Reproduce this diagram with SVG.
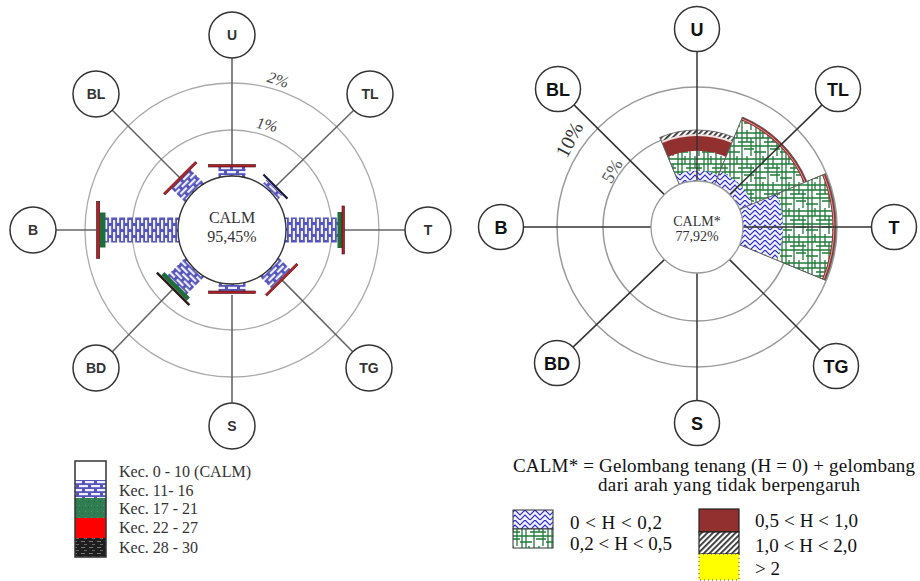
<svg xmlns="http://www.w3.org/2000/svg" width="920" height="581" viewBox="0 0 920 581">
<style>
.ring1{fill:none;stroke:#aaaaaa;stroke-width:1.3}
.ring2{fill:none;stroke:#9a9a9a;stroke-width:1.5}
.spokeL{stroke:#666;stroke-width:1.6;fill:none}
.spokeR{stroke:#333;stroke-width:1.5;fill:none}
.node{fill:#fff;stroke:#333;stroke-width:1.5}
.lblL{font-family:"Liberation Sans",Arial,sans-serif;font-weight:bold;font-size:14px;fill:#333;text-anchor:middle}
.lblR{font-family:"Liberation Sans",Arial,sans-serif;font-weight:bold;font-size:18px;fill:#111;text-anchor:middle}
.serif{font-family:"Liberation Serif","Times New Roman",serif}
.cap{fill:#b3202a;stroke:#3a1010;stroke-width:0.6}
.red{fill:#922f2f}
.edge{stroke:#555;stroke-width:0.8}
</style>
<defs>
<pattern id="brick" width="12" height="8" patternUnits="userSpaceOnUse">
<rect width="12" height="8" fill="#5555bb"/>
<rect x="1" y="1" width="9" height="2.2" fill="#eef"/>
<rect x="-5" y="5" width="9" height="2.2" fill="#eef"/>
<rect x="7" y="5" width="9" height="2.2" fill="#eef"/>
</pattern>
<pattern id="herr" width="10" height="10" patternUnits="userSpaceOnUse">
<rect width="10" height="10" fill="#f2f2ff"/>
<path d="M-1,6 L5,0 L11,6 M-1,11 L5,5 L11,11 M-1,1 L0,0" stroke="#2a2ac8" stroke-width="1.2" fill="none"/>
</pattern>
<pattern id="grid" width="26" height="26" patternUnits="userSpaceOnUse">
<rect width="26" height="26" fill="#fff"/>
<path d="M2,0V26 M6,0V26 M14,0V26 M19,0V12 M23,8V26 M9,0V8 M0,3H26 M0,8H26 M0,16H26 M0,22H12 M10,12H26 M16,19H26" stroke="#1f7a3a" stroke-width="1.3" fill="none"/>
</pattern>
<pattern id="hatch" width="4" height="4" patternUnits="userSpaceOnUse" patternTransform="rotate(45)">
<rect width="4" height="4" fill="#fff"/>
<rect width="1.8" height="4" fill="#333"/>
</pattern>
<pattern id="dark" width="8" height="6" patternUnits="userSpaceOnUse">
<rect width="8" height="6" fill="#1e1e1e"/>
<rect x="1" y="1" width="4" height="1" fill="#777"/>
<rect x="4" y="4" width="3" height="1" fill="#666"/>
</pattern>
<pattern id="greenL" width="6" height="6" patternUnits="userSpaceOnUse">
<rect width="6" height="6" fill="#2f7d50"/>
<rect x="1" y="1" width="1" height="1" fill="#4a9a6a"/>
<rect x="4" y="3" width="1" height="1" fill="#226040"/>
</pattern>
</defs>

<!-- LEFT ROSE -->
<g id="left-rose">
<circle class="ring1" cx="232" cy="230" r="100"/>
<circle class="ring1" cx="232" cy="230" r="147"/>
<text class="serif" transform="translate(278,80) rotate(18)" y="5" font-size="16" font-style="italic" fill="#444" text-anchor="middle">2%</text>
<text class="serif" transform="translate(267,125) rotate(12)" y="5" font-size="16" font-style="italic" fill="#444" text-anchor="middle">1%</text>
</g>
<g id="left-connectors">
<line class="spokeL" x1="232" y1="58" x2="232" y2="165"/>
<line class="spokeL" x1="232" y1="295" x2="232" y2="403"/>
<line class="spokeL" x1="56" y1="230" x2="96" y2="230"/>
<line class="spokeL" x1="344" y1="230" x2="405" y2="230"/>
<line class="spokeL" x1="112.3" y1="110.3" x2="180" y2="178"/>
<line class="spokeL" x1="353.7" y1="110.3" x2="275.5" y2="186.5"/>
<line class="spokeL" x1="281.9" y1="279.9" x2="352.7" y2="351.7"/>
<line class="spokeL" x1="173" y1="289" x2="112.3" y2="351.7"/>
</g>
<g id="left-bars">
<g transform="translate(232,230)">
<rect x="-13.5" y="-63" width="27" height="23" fill="url(#brick)"/>
<rect class="cap" x="-23.5" y="-65.5" width="47" height="2.5"/>
</g>
<g transform="translate(232,230) rotate(45)">
<rect x="-11" y="-60" width="22" height="20" fill="url(#brick)"/>
<rect x="-17" y="-62.5" width="34" height="2.2" fill="#1a1a40"/>
</g>
<g transform="translate(232,230) rotate(90)">
<rect x="-12.5" y="-106" width="25" height="66" fill="url(#brick)"/>
<rect x="-18" y="-110" width="36" height="4.5" fill="#1f6e3a"/>
<rect class="cap" x="-24" y="-112.5" width="48" height="2.5"/>
</g>
<g transform="translate(232,230) rotate(135)">
<rect x="-13.5" y="-69" width="27" height="29" fill="url(#brick)"/>
<rect class="cap" x="-22" y="-71.5" width="44" height="2.4"/>
</g>
<g transform="translate(232,230) rotate(180)">
<rect x="-13.5" y="-61" width="27" height="21" fill="url(#brick)"/>
<rect class="cap" x="-23.5" y="-63.5" width="47" height="2.5"/>
</g>
<g transform="translate(232,230) rotate(225)">
<rect x="-13.5" y="-78" width="27" height="38" fill="url(#brick)"/>
<rect x="-18" y="-82" width="36" height="4.5" fill="#1f6e3a"/>
<rect x="-23" y="-84.5" width="46" height="2.5" fill="#2a1a1a"/>
</g>
<g transform="translate(232,230) rotate(270)">
<rect x="-12.5" y="-127" width="25" height="87" fill="url(#brick)"/>
<rect x="-17.5" y="-132" width="35" height="5.5" fill="#1f6e3a"/>
<rect class="cap" x="-28.5" y="-135.5" width="57" height="3.2"/>
</g>
<g transform="translate(232,230) rotate(315)">
<rect x="-13.5" y="-72" width="27" height="32" fill="url(#brick)"/>
<rect class="cap" x="-22.5" y="-74.5" width="45" height="2.5"/>
</g>
</g>
<g id="left-calm">
<circle cx="232" cy="230" r="54" fill="#fff" stroke="#333" stroke-width="1.4"/>
<text class="serif" x="232" y="223" font-size="16" fill="#333" text-anchor="middle">CALM</text>
<text class="serif" x="232" y="242" font-size="16" fill="#333" text-anchor="middle">95,45%</text>
</g>
<g id="L-U"><circle class="node" cx="232" cy="35" r="23"/><text class="lblL" x="232" y="40">U</text></g>
<g id="L-BL"><circle class="node" cx="96" cy="94" r="23"/><text class="lblL" x="96" y="99">BL</text></g>
<g id="L-TL"><circle class="node" cx="370" cy="94" r="23"/><text class="lblL" x="370" y="99">TL</text></g>
<g id="L-B"><circle class="node" cx="33" cy="230" r="23"/><text class="lblL" x="33" y="235">B</text></g>
<g id="L-T"><circle class="node" cx="428" cy="230" r="23"/><text class="lblL" x="428" y="235">T</text></g>
<g id="L-BD"><circle class="node" cx="96" cy="368" r="23"/><text class="lblL" x="96" y="373">BD</text></g>
<g id="L-TG"><circle class="node" cx="369" cy="368" r="23"/><text class="lblL" x="369" y="373">TG</text></g>
<g id="L-S"><circle class="node" cx="232" cy="426" r="23"/><text class="lblL" x="232" y="431">S</text></g>

<!-- LEFT LEGEND -->
<g id="left-legend">
<rect x="75" y="461" width="31" height="19" fill="#fff"/>
<rect x="75" y="480" width="31" height="18" fill="url(#brick)"/>
<rect x="75" y="498" width="31" height="20" fill="url(#greenL)"/>
<rect x="75" y="518" width="31" height="20" fill="#ff0000"/>
<rect x="75" y="538" width="31" height="19" fill="url(#dark)"/>
<rect x="75" y="461" width="31" height="96" fill="none" stroke="#333" stroke-width="1.5"/>
<g class="serif" font-size="16" fill="#333">
<text x="119" y="477">Kec. 0 - 10 (CALM)</text>
<text x="119" y="496">Kec. 11- 16</text>
<text x="119" y="514">Kec. 17 - 21</text>
<text x="119" y="533">Kec. 22 - 27</text>
<text x="119" y="553">Kec. 28 - 30</text>
</g>
</g>

<!-- RIGHT ROSE -->
<g id="right-rose">
<circle class="ring2" cx="697" cy="227" r="94"/>
<circle class="ring2" cx="697" cy="227" r="140"/>
<text class="serif" transform="translate(570,140) rotate(-62)" y="6" font-size="20" fill="#333" text-anchor="middle">10%</text>
<text class="serif" transform="translate(612,171) rotate(-60)" y="6" font-size="18" fill="#555" text-anchor="middle">5%</text>
</g>
<g id="right-sectors">
<g id="sector-U">
<path class="edge" d="M697,227 L659.88,137.38 A97,97 0 0 1 734.12,137.38 Z" fill="url(#hatch)"/>
<path d="M697,227 L661.41,141.08 A93,93 0 0 1 732.59,141.08 Z" fill="#f2dede"/>
<path class="red" d="M697,227 L662.18,142.93 A91,91 0 0 1 731.82,142.93 Z"/>
<path d="M697,227 L667.92,156.79 A76,76 0 0 1 726.08,156.79 Z" fill="url(#grid)"/>
<path d="M697,227 L675.57,175.26 A56,56 0 0 1 718.43,175.26 Z" fill="url(#herr)"/>
<path class="edge" d="M697,227 L659.88,137.38 M697,227 L734.12,137.38" fill="none"/>
</g>
<g id="sector-TL">
<path class="red edge" d="M697,227 L742.54,117.06 A119,119 0 0 1 806.94,181.46 Z"/>
<path d="M741.77,118.91 A117,117 0 0 1 805.09,182.23" fill="none" stroke="#d89a9a" stroke-width="1"/>
<path d="M697,227 L741.2,120.29 A115.5,115.5 0 0 1 803.71,182.8 Z" fill="url(#grid)"/>
<path d="M697,227 L719.96,171.57 A60,60 0 0 1 752.43,204.04 Z" fill="url(#herr)"/>
<path class="edge" d="M697,227 L742.54,117.06" fill="none"/>
</g>
<g id="sector-T">
<path class="red edge" d="M697,227 L825.42,173.81 A139,139 0 0 1 825.42,280.19 Z"/>
<path d="M823.57,174.57 A137,137 0 0 1 823.57,279.43" fill="none" stroke="#d89a9a" stroke-width="1"/>
<path d="M697,227 L822.19,175.15 A135.5,135.5 0 0 1 822.19,278.85 Z" fill="url(#grid)"/>
<path d="M697,227 L776.45,194.09 A86,86 0 0 1 776.45,259.91 Z" fill="url(#herr)"/>
<path class="edge" d="M697,227 L825.42,173.81 M697,227 L825.42,280.19" fill="none"/>
</g>
</g>
<g id="right-connectors">
<line class="spokeR" x1="697" y1="51.5" x2="697" y2="181"/>
<line class="spokeR" x1="697" y1="273" x2="697" y2="400.5"/>
<line class="spokeR" x1="523.5" y1="227" x2="651" y2="227"/>
<line class="spokeR" x1="743" y1="227" x2="871.5" y2="227"/>
<line class="spokeR" x1="574" y1="104.9" x2="664.4" y2="194.6"/>
<line class="spokeR" x1="822" y1="104.9" x2="729.6" y2="194.6"/>
<line class="spokeR" x1="573" y1="347.1" x2="664.4" y2="259.6"/>
<line class="spokeR" x1="820" y1="350.1" x2="729.6" y2="259.6"/>
</g>
<g id="right-calm">
<circle cx="697" cy="227" r="46" fill="#fff" stroke="#999" stroke-width="1.3"/>
<text class="serif" x="697" y="226" font-size="14" fill="#333" text-anchor="middle">CALM*</text>
<text class="serif" x="697" y="241" font-size="14" fill="#333" text-anchor="middle">77,92%</text>
</g>
<g id="R-U"><circle class="node" cx="697" cy="29" r="22.5"/><text class="lblR" x="697" y="35.5">U</text></g>
<g id="R-BL"><circle class="node" cx="558" cy="89" r="22.5"/><text class="lblR" x="558" y="95.5">BL</text></g>
<g id="R-TL"><circle class="node" cx="838" cy="89" r="22.5"/><text class="lblR" x="838" y="95.5">TL</text></g>
<g id="R-B"><circle class="node" cx="501" cy="227" r="22.5"/><text class="lblR" x="501" y="233.5">B</text></g>
<g id="R-T"><circle class="node" cx="894" cy="227" r="22.5"/><text class="lblR" x="894" y="233.5">T</text></g>
<g id="R-BD"><circle class="node" cx="557" cy="363" r="22.5"/><text class="lblR" x="557" y="369.5">BD</text></g>
<g id="R-TG"><circle class="node" cx="836" cy="366" r="22.5"/><text class="lblR" x="836" y="372.5">TG</text></g>
<g id="R-S"><circle class="node" cx="697" cy="423" r="22.5"/><text class="lblR" x="697" y="429.5">S</text></g>

<!-- RIGHT LEGEND -->
<g id="right-legend" class="serif" font-size="19" fill="#111">
<text x="513" y="472" textLength="402" lengthAdjust="spacing">CALM* = Gelombang tenang (H = 0) + gelombang</text>
<text x="598" y="491" textLength="262" lengthAdjust="spacing">dari arah yang tidak berpengaruh</text>
<rect x="513" y="510" width="40" height="19" fill="url(#herr)" stroke="#333" stroke-width="1"/>
<rect x="513" y="529" width="40" height="19" fill="url(#grid)" stroke="#333" stroke-width="1"/>
<text x="570" y="529" textLength="92" lengthAdjust="spacing">0 &lt; H &lt; 0,2</text>
<text x="570" y="550" textLength="102" lengthAdjust="spacing">0,2 &lt; H &lt; 0,5</text>
<rect x="699" y="509" width="40" height="23" fill="#922f2f" stroke="#222" stroke-width="1.2"/>
<rect x="699" y="532" width="40" height="22" fill="url(#hatch)" stroke="#222" stroke-width="1.2"/>
<rect x="699" y="554" width="40" height="26" fill="#ffff00" stroke="#444" stroke-width="1" stroke-dasharray="1,3"/>
<text x="755" y="527" textLength="103" lengthAdjust="spacing">0,5 &lt; H &lt; 1,0</text>
<text x="755" y="552" textLength="102" lengthAdjust="spacing">1,0 &lt; H &lt; 2,0</text>
<text x="755" y="575">&gt; 2</text>
</g>
</svg>
